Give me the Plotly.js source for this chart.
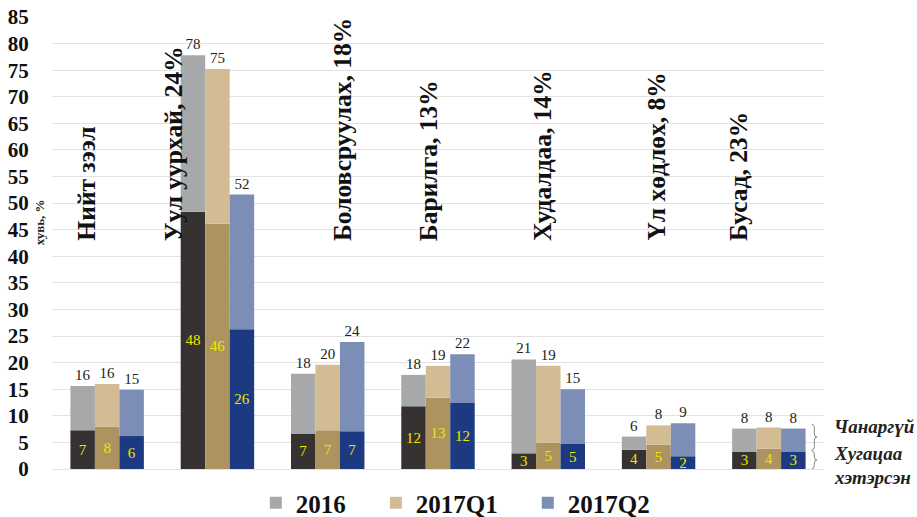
<!DOCTYPE html>
<html>
<head>
<meta charset="utf-8">
<script src="https://cdn.plot.ly/plotly-3.0.1.min.js"></script>
<style>
  html, body { margin: 0; padding: 0; background: #fff; }
  #chart { width: 917px; height: 517px; }
</style>
</head>
<body>
<div id="chart"></div>
<script>
// ---- data ----
const categories = ['Нийт зээл', 'Уул уурхай, 24%', 'Боловсруулах, 18%', 'Барилга, 13%', 'Худалдаа, 14%', 'Үл хөдлөх, 8%', 'Бусад, 23%'];
const seriesNames = ['2016', '2017Q1', '2017Q2'];
// total (non-performing + overdue) loan ratio, %
const total2016 = [15.6, 77.8, 17.9, 17.7, 20.6, 6.1, 7.6];
const totalQ1   = [16.0, 75.2, 19.6, 19.4, 19.4, 8.2, 7.8];
const totalQ2   = [14.9, 51.6, 23.9, 21.6, 15.0, 8.6, 7.6];
// overdue part, %
const overdue2016 = [7.3, 48.4, 6.6, 11.8, 2.95, 3.6, 3.2];
const overdueQ1   = [8.0, 46.1, 7.3, 13.4, 4.95, 4.6, 3.8];
const overdueQ2   = [6.2, 26.3, 7.1, 12.4, 4.7, 2.4, 3.2];
const yTicks = [0, 5, 10, 15, 20, 25, 30, 35, 40, 45, 50, 55, 60, 65, 70, 75, 80, 85];
const yTitle = 'хувь, %';
const sideLabels = ['Чанаргүй', 'Хугацаа', 'хэтэрсэн'];

// ---- styles ----
const FONT = 'Liberation Serif, Times New Roman, serif';
const topColors = ['#a6a8aa', '#d3bc94', '#7c8db6'];
const bottomColors = ['#373232', '#ad9360', '#1b3a82'];
const barWidth = 0.222;
const offsets = [-0.333, -0.111, 0.111];
const catLabelX = [-0.195, 0.603, 2.135, 2.915, 3.948, 4.973, 5.725];
const legendPad = ['\u00a0\u00a0\u00a0\u00a0', '\u00a0\u00a0\u00a0\u00a0', ''];

const totals = [total2016, totalQ1, totalQ2];
const overdues = [overdue2016, overdueQ1, overdueQ2];

const traces = [];
for (let s = 0; s < 3; s++) {
  traces.push({
    type: 'bar', x: categories, y: overdues[s], base: 0,
    width: barWidth, offset: offsets[s],
    marker: { color: bottomColors[s], line: { width: 0 } },
    text: overdues[s].map(v => String(Math.round(v))),
    textposition: 'inside', insidetextanchor: 'middle', textangle: 0,
    constraintext: 'none',
    insidetextfont: { family: FONT, size: 15, color: '#f2e400' },
    showlegend: false, hoverinfo: 'skip', name: seriesNames[s] + ' overdue'
  });
}
for (let s = 0; s < 3; s++) {
  traces.push({
    type: 'bar', x: categories,
    y: totals[s].map((v, i) => v - overdues[s][i]),
    base: overdues[s],
    width: barWidth, offset: offsets[s],
    marker: { color: topColors[s], line: { width: 0 } },
    text: totals[s].map(v => String(Math.round(v))),
    textposition: 'outside', textangle: 0, constraintext: 'none',
    outsidetextfont: { family: FONT, size: 15, color: '#222' },
    cliponaxis: false,
    name: seriesNames[s] + legendPad[s], hoverinfo: 'skip'
  });
}

// brace path helper in (paper x, data y)
function brace(x0, x1, yTop, yBot) {
  const xm = (x0 + x1) / 2, ym = (yTop + yBot) / 2, r = 0.6;
  return `M ${x0} ${yTop} Q ${xm} ${yTop} ${xm} ${yTop - r} L ${xm} ${ym + r} Q ${xm} ${ym} ${x1} ${ym} ` +
         `Q ${xm} ${ym} ${xm} ${ym - r} L ${xm} ${yBot + r} Q ${xm} ${yBot} ${x0} ${yBot}`;
}

const annotations = categories.map((c, i) => ({
  text: '<b>' + c + '</b>', x: catLabelX[i], y: 42.5, xref: 'x', yref: 'y',
  textangle: -90, xanchor: 'center', yanchor: 'bottom', showarrow: false,
  font: { family: FONT, size: 25.5, color: '#111' }
}));
annotations.push({
  text: '<b>' + yTitle + '</b>', x: -0.016, y: 0.545, xref: 'paper', yref: 'paper',
  textangle: -90, xanchor: 'center', yanchor: 'middle', showarrow: false,
  font: { family: FONT, size: 13, color: '#222' }
});
const sideY = [0.095, 0.035, -0.018];
sideLabels.forEach((t, i) => annotations.push({
  text: '<b><i>' + t + '</i></b>', x: 1.010, y: sideY[i], xref: 'paper', yref: 'paper',
  xanchor: 'left', yanchor: 'middle', showarrow: false,
  font: { family: FONT, size: 19, color: '#222' }
}));

const layout = {
  width: 917, height: 517,
  margin: { l: 52, r: 93, t: 17, b: 48 },
  paper_bgcolor: '#fff', plot_bgcolor: '#fff',
  barmode: 'overlay',
  showlegend: true,
  legend: {
    orientation: 'h', xref: 'container', yref: 'container',
    x: 0.279, xanchor: 'left', y: 0.027, yanchor: 'middle',
    font: { family: FONT, size: 25, color: '#111', weight: 'bold' },
    traceorder: 'normal', itemwidth: 30
  },
  xaxis: {
    type: 'category', range: [-0.5, 6.5], showticklabels: false,
    showgrid: false, zeroline: false, showline: false, ticks: ''
  },
  yaxis: {
    range: [0, 85], tickvals: yTicks, ticktext: yTicks.map(String),
    showgrid: true, gridcolor: '#e2e2e2', gridwidth: 1,
    zeroline: true, zerolinecolor: '#e2e2e2', showline: false,
    ticks: 'outside', ticklen: 18, tickcolor: 'rgba(0,0,0,0)',
    tickfont: { family: FONT, size: 21, color: '#111', weight: 'bold' }
  },
  annotations: annotations,
  shapes: [
    { type: 'path', xref: 'paper', yref: 'y', path: brace(0.984, 0.991, 8.4, 3.6), line: { color: '#888', width: 1 } },
    { type: 'path', xref: 'paper', yref: 'y', path: brace(0.984, 0.991, 3.4, 0.05), line: { color: '#888', width: 1 } }
  ],
  font: { family: FONT }
};

Plotly.newPlot('chart', traces, layout, { displayModeBar: false, staticPlot: true });
</script>
</body>
</html>
